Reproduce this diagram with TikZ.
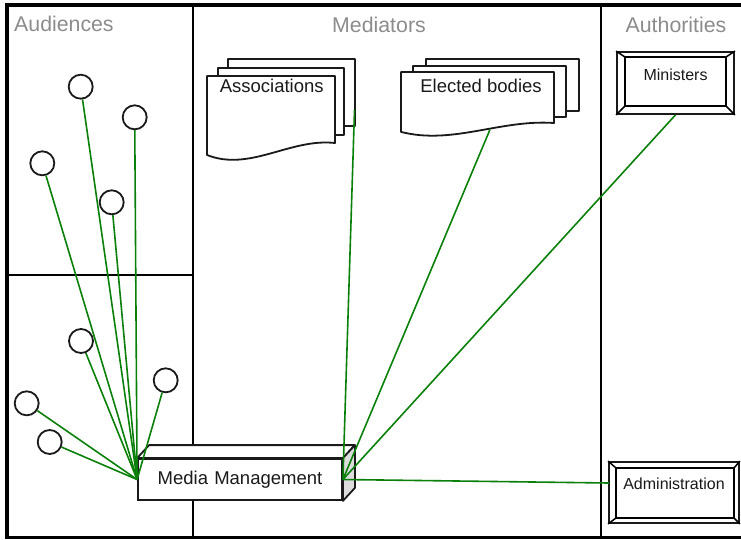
\documentclass[tikz,border=0pt]{standalone}
\usepackage{fontspec}
\setmainfont{Liberation Sans}
\definecolor{ink}{RGB}{26,26,26}
\definecolor{linkgreen}{RGB}{10,128,10}
\definecolor{titlegray}{RGB}{140,140,140}
\definecolor{sidegray}{RGB}{220,220,220}
\newcommand\bevelinner[5]{%
  \draw[line width=1.5pt] ([shift={(#2,#3)}]#1.north west) coordinate (#1-a)
     -- ([shift={(-#4,#3)}]#1.north east) coordinate (#1-b)
     -- ([shift={(-#4,-#5)}]#1.south east) coordinate (#1-c)
     -- ([shift={(#2,-#5)}]#1.south west) coordinate (#1-d) -- cycle;
  \draw[line width=1.5pt] (#1.north west) -- (#1-a) (#1.north east) -- (#1-b)
     (#1.south east) -- (#1-c) (#1.south west) -- (#1-d);}
\begin{document}
\begin{tikzpicture}[x=1pt,y=-1pt,
  frame/.style={line width=3.5pt, line cap=rect},
  divider/.style={line width=2pt},
  title/.style={text=titlegray, font=\fontsize{21.3}{24}\selectfont, inner sep=0pt},
  aud/.style={circle, draw=ink, line width=1.8pt, minimum size=24pt, inner sep=0pt, fill=white},
  conn/.style={draw=linkgreen, line width=1.6pt},
  page/.style={draw=ink, line width=1.8pt, fill=white, line join=round},
  doclabel/.style={font=\fontsize{18.5}{22}\selectfont, text=ink, inner sep=0pt},
  bevelbox/.style={draw=ink, line width=1.8pt, fill=white, font=\fontsize{16}{19}\selectfont, text=ink, text height=12pt, text depth=18pt, inner sep=0pt},
  mediabox/.style={draw=ink, line width=1.8pt, fill=white, font=\fontsize{18.5}{22}\selectfont, text=ink, inner sep=0pt, minimum width=204pt, minimum height=41pt}]
\useasboundingbox (0,0) rectangle (741,539);

% frame and swimlanes
\draw[frame] (745,5) -- (7,5) -- (7,537.5) -- (745,537.5);
\draw[divider] (193,5) -- (193,537.5);
\draw[divider] (601,5) -- (601,537.5);
\draw[divider] (7,275) -- (193,275);

\node[title, anchor=west] (t-aud) at (14,24.3) {Audiences};
\node[title] (t-med) at (379,25.3) {Mediators};
\node[title] (t-auth) at (676,25.3) {Authorities};

% audience circles
\node[aud] (c1) at (80.7,86.7) {};
\node[aud] (c2) at (134.7,117.3) {};
\node[aud] (c3) at (42.3,163.3) {};
\node[aud] (c4) at (111.7,202.3) {};
\node[aud] (c5) at (81,341) {};
\node[aud] (c6) at (165.7,380.3) {};
\node[aud] (c7) at (26.7,403.3) {};
\node[aud] (c8) at (49.7,442) {};

% Associations (stacked documents)
\draw[page] (228,59) rectangle (355,126);
\draw[page] (218,68) rectangle (344,135);
\draw[page] (207,76) -- (335,76) -- (335,143) .. controls (290,138) and (250,172) .. (207,155) -- cycle;
\node[doclabel] (assoc) at (271.7,86) {Associations};
\coordinate (assoc-pin) at (354.5,110);

% Elected bodies (stacked documents)
\draw[page] (426,59) rectangle (579,111);
\draw[page] (413,66) rectangle (566,117);
\draw[page] (401,72) -- (554,72) -- (554,123) .. controls (500.5,119.2) and (452.4,145.1) .. (401,131.9) -- cycle;
\node[doclabel] (elected) at (481,86) {Elected bodies};
\coordinate (elected-pin) at (490,129.5);

% Authorities
\node[bevelbox, minimum width=117pt, minimum height=62pt] (min) at (675.5,83) {Ministers};
\bevelinner{min}{9}{6}{9}{9}
\node[bevelbox, minimum width=130pt, minimum height=61pt] (adm) at (674,492.5) {Administration};
\bevelinner{adm}{8}{7}{6}{6}
\coordinate (adm-pin) at (609,483);

% Media Management (3D box)
\node[mediabox, text width=198pt, align=center] (media) at (240,479.5) {Media Management};
\draw[page] (media.north west) -- ++(12,-13) -- ([shift={(12,-13)}]media.north east) -- (media.north east) -- cycle;
\draw[page, fill=sidegray] (media.north east) -- ++(12,-13) -- ([shift={(12,-13)}]media.south east) -- (media.south east) -- cycle;

% connectors
\foreach \c in {c1,c2,c3,c4,c5,c6,c7,c8}
  \draw[conn] (\c) -- (media.west);
\draw[conn] (media.east) -- (assoc-pin);
\draw[conn] (media.east) -- (elected-pin);
\draw[conn] (media.east) -- (min.south);
\draw[conn] (media.east) -- (adm-pin);
\end{tikzpicture}
\end{document}
